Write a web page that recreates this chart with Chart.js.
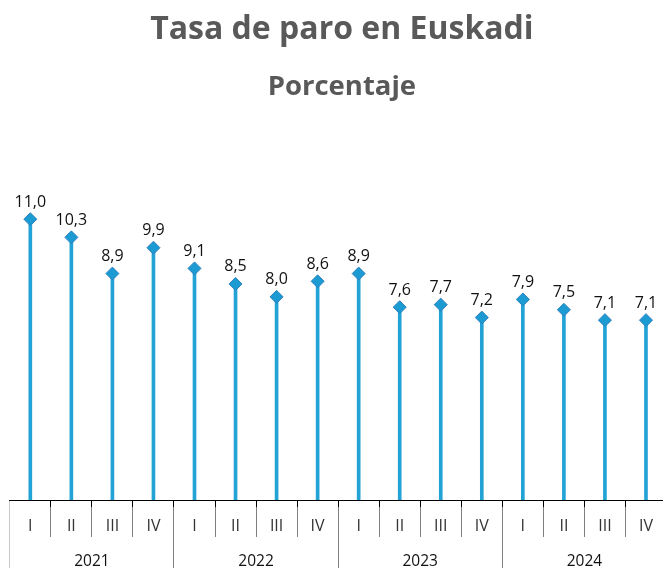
<!DOCTYPE html>
<html>
<head>
<meta charset="utf-8">
<script src="https://cdn.jsdelivr.net/npm/chart.js@4"></script>
<style>
  html, body { margin: 0; padding: 0; background: #fff; overflow: hidden; }
  #wrap { width: 674px; height: 568px; }
</style>
</head>
<body>
<div id="wrap"><canvas id="c" width="674" height="568"></canvas></div>
<script>
const quarters = ['I','II','III','IV','I','II','III','IV','I','II','III','IV','I','II','III','IV'];
const years = ['2021','2022','2023','2024'];
const rates = [11.0, 10.3, 8.9, 9.9, 9.1, 8.5, 8.0, 8.6, 8.9, 7.6, 7.7, 7.2, 7.9, 7.5, 7.1, 7.1];

const labelPlugin = {
  id: 'pointLabels',
  afterDraw(chart) {
    const ctx = chart.ctx;
    const meta = chart.getDatasetMeta(1);
    ctx.save();
    ctx.textAlign = 'center';
    ctx.textBaseline = 'middle';
    ctx.font = '16px "Open Sans"';
    ctx.fillStyle = '#111';
    meta.data.forEach((pt, i) => {
      ctx.fillText(rates[i].toFixed(1).replace('.', ','), pt.x, pt.y - 17);
    });
    const sx = chart.scales.x;
    ctx.font = '16px "Open Sans"';
    ctx.fillStyle = '#333';
    quarters.forEach((q, i) => {
      ctx.fillText(q, sx.getPixelForTick(i), sx.top + 26);
    });
    const sx2 = chart.scales.x2;
    ctx.font = '15.5px "Open Sans"';
    ctx.fillStyle = '#111';
    years.forEach((y, i) => {
      ctx.fillText(y, sx2.getPixelForTick(i), sx2.top + 25);
    });
    ctx.restore();
  }
};

function tickColor(c) {
  if (c.index === 0) return '#c8c8c8';
  const chart = c.chart;
  const area = chart.chartArea;
  if (!area) return '#7f7f7f';
  const g = chart.ctx.createLinearGradient(0, area.bottom, 0, area.bottom + 37);
  g.addColorStop(0, '#000');
  g.addColorStop(0.19, '#000');
  g.addColorStop(0.2, '#7f7f7f');
  g.addColorStop(1, '#7f7f7f');
  return g;
}

new Chart(document.getElementById('c'), {
  type: 'bar',
  data: {
    labels: quarters,
    datasets: [
      {
        type: 'bar',
        data: rates,
        backgroundColor: '#23a2d6',
        barThickness: 3,
        order: 2
      },
      {
        type: 'line',
        data: rates,
        showLine: false,
        pointStyle: 'rectRot',
        pointRadius: 6.5,
        pointHoverRadius: 6.5,
        pointBackgroundColor: '#1b9bd1',
        pointBorderColor: '#2f80c0',
        pointBorderWidth: 1,
        order: 1
      }
    ]
  },
  options: {
    responsive: false,
    animation: false,
    events: [],
    layout: { padding: { left: 9.8, right: 0, top: 0, bottom: 0 } },
    plugins: {
      legend: { display: false },
      tooltip: { enabled: false },
      title: {
        display: true,
        text: 'Tasa de paro en Euskadi',
        color: '#595959',
        font: { family: '"Open Sans"', size: 32, weight: 'bold' },
        padding: { top: 11, bottom: 17 }
      },
      subtitle: {
        display: true,
        text: 'Porcentaje',
        color: '#595959',
        font: { family: '"Open Sans"', size: 27.5, weight: 'bold' },
        padding: { top: 4, bottom: 47 }
      }
    },
    scales: {
      y: {
        display: false,
        min: 0.15,
        max: 13.66
      },
      x: {
        offset: true,
        border: { display: true, color: '#000', width: 1 },
        grid: {
          offset: true,
          drawOnChartArea: false,
          tickLength: 37,
          color: tickColor
        },
        ticks: { display: false }
      },
      x2: {
        type: 'category',
        labels: years,
        position: 'bottom',
        offset: true,
        border: { display: false },
        grid: {
          offset: true,
          drawOnChartArea: false,
          tickLength: 31,
          color: (c) => c.index === 0 ? '#c8c8c8' : '#7f7f7f'
        },
        ticks: { display: false }
      }
    }
  },
  plugins: [labelPlugin]
});
</script>
</body>
</html>
